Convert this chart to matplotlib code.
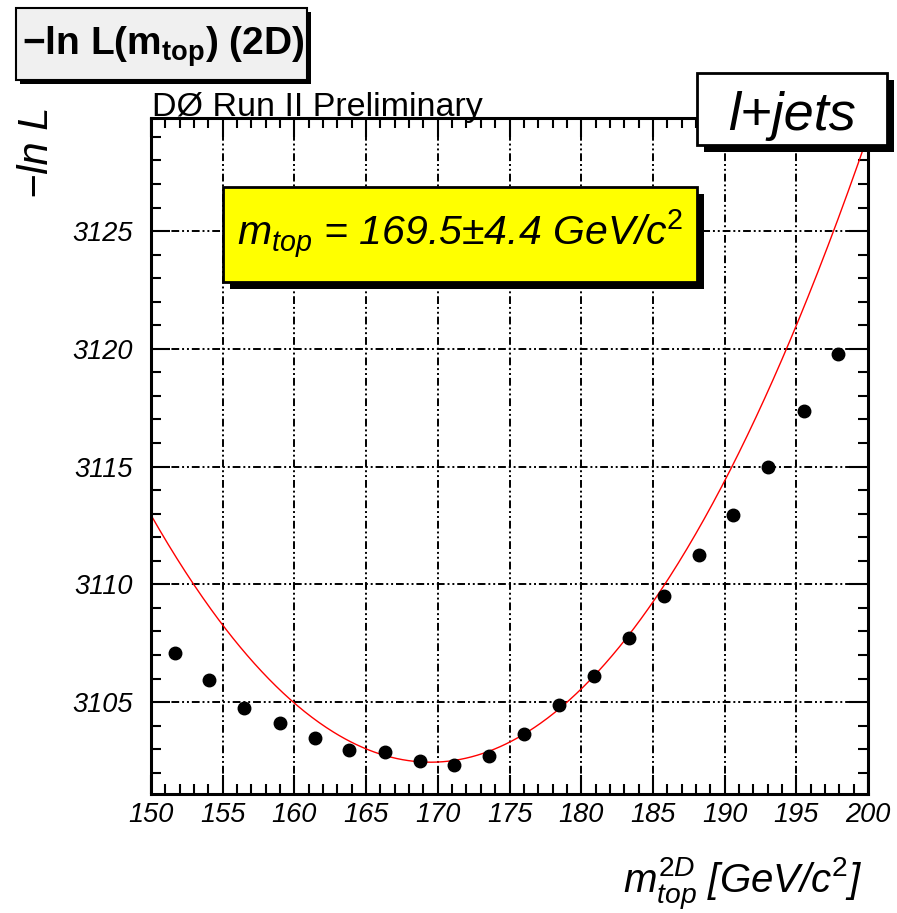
import numpy as np
import matplotlib
matplotlib.use("Agg")
import matplotlib.pyplot as plt
from matplotlib.patches import Rectangle
from matplotlib.ticker import MultipleLocator

plt.rcParams['font.family'] = ['Liberation Sans', 'DejaVu Sans']
plt.rcParams['mathtext.fontset'] = 'custom'
plt.rcParams['mathtext.rm'] = 'Liberation Sans'
plt.rcParams['mathtext.it'] = 'Liberation Sans:italic'
plt.rcParams['mathtext.bf'] = 'Liberation Sans:bold'

# -ln L scan points
mtop = [151.67, 154.04, 156.48, 158.98, 161.42, 163.84, 166.3, 168.75, 171.13, 173.55,
        176.0, 178.44, 180.87, 183.31, 185.79, 188.18, 190.62, 193.06, 195.52, 197.93]
minus_lnL = [3107.09, 3105.96, 3104.73, 3104.1, 3103.48, 3102.96, 3102.88, 3102.51, 3102.31, 3102.72,
             3103.65, 3104.87, 3106.12, 3107.73, 3109.5, 3111.23, 3112.95, 3114.99, 3117.37, 3119.76]

# fit curve parameters
fit_mtop = 169.5
fit_min = 3102.45
fit_a = 0.02799
fit_b = 0.0000205

W, H = 897, 913
fig = plt.figure(figsize=(W / 100, H / 100), dpi=100)
ax = fig.add_axes([151 / W, 1 - 794 / H, (868 - 151) / W, (794 - 118) / H])

xs = np.linspace(150, 200, 500)
d = xs - fit_mtop
ax.plot(xs, fit_min + fit_a * d**2 + fit_b * d**3, color='red', lw=1.0, zorder=2)
ax.plot(mtop, minus_lnL, 'o', color='black', markersize=9, zorder=3)

ax.set_xlim(150, 200)
ax.set_ylim(3101.1, 3129.8)
ax.xaxis.set_major_locator(MultipleLocator(5))
ax.xaxis.set_minor_locator(MultipleLocator(1))
ax.yaxis.set_major_locator(MultipleLocator(5))
ax.yaxis.set_minor_locator(MultipleLocator(1))
ax.tick_params(which='both', direction='in', top=True, right=True, width=1.5)
ax.tick_params(which='major', length=14)
ax.tick_params(which='minor', length=7.2)
ax.tick_params(axis='x', pad=6, labelsize=19.5)
ax.tick_params(axis='y', pad=13, labelsize=19.5)
for lab in ax.get_xticklabels() + ax.get_yticklabels():
    lab.set_fontstyle('italic')
for sp in ax.spines.values():
    sp.set_linewidth(2.2)
ax.grid(True, which='major', color='black', lw=1.4,
        linestyle=(0, (4, 1.5, 1, 1.5, 1, 1.5)))


def box(x0, y0, x1, y1, face, shadow, lw):
    sh = Rectangle(((x0 + shadow) / W, 1 - (y1 + shadow) / H), (x1 - x0) / W, (y1 - y0) / H,
                   transform=fig.transFigure, facecolor='black', edgecolor='none', zorder=5)
    main = Rectangle((x0 / W, 1 - y1 / H), (x1 - x0) / W, (y1 - y0) / H,
                     transform=fig.transFigure, facecolor=face, edgecolor='black', lw=lw, zorder=6)
    fig.add_artist(sh)
    fig.add_artist(main)


box(16, 8, 307, 80, '#f0f0f0', 4, 1.5)
box(697, 73, 887, 145, 'white', 7, 2)
box(223, 187, 697, 282, '#ffff00', 7, 2)

fig.text(22 / W, 1 - 55 / H, r"−ln L(m$_{\mathbf{top}}$) (2D)", fontsize=28,
         fontweight='bold', va='baseline', zorder=7)
fig.text(152 / W, 1 - 116 / H, "DØ Run II Preliminary", fontsize=24.5, va='baseline', zorder=7)
fig.text(792 / W, 1 - 130 / H, "l+jets", fontsize=39, fontstyle='italic',
         ha='center', va='baseline', zorder=7)
fig.text(237 / W, 1 - 245 / H, r"$m_{top}$ = 169.5±4.4 GeV/c$^{\mathit{2}}$", fontsize=29.5,
         fontstyle='italic', va='baseline', zorder=7)
fig.text(37 / W, 1 - 152 / H, "−ln L", rotation=90, fontsize=30, fontstyle='italic',
         ha='center', va='center')
fig.text(862 / W, 1 - 893 / H, r"$m^{\mathit{2D}}_{top}$ [GeV/c$^{\mathit{2}}$]", fontsize=29,
         fontstyle='italic', ha='right', va='baseline')

fig.savefig("out.png", dpi=100)
